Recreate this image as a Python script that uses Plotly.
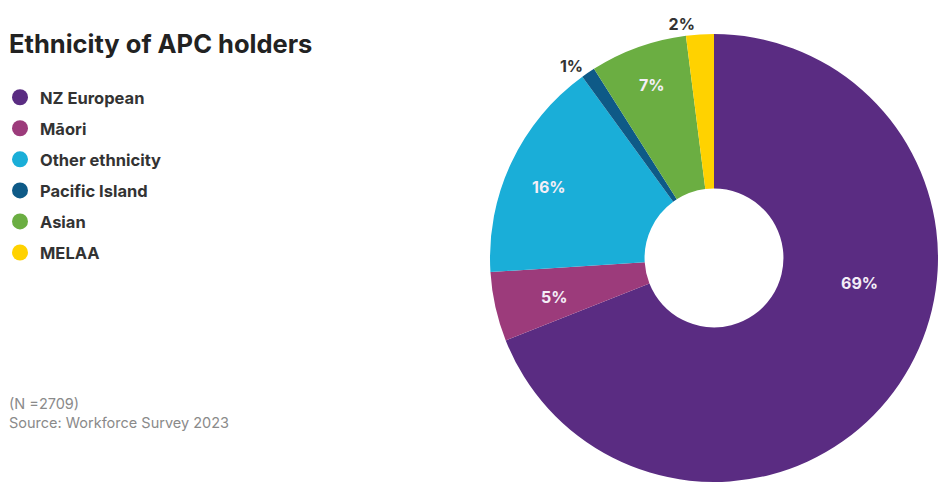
import math
import plotly.graph_objects as go

# Ethnicity breakdown of APC holders (Workforce Survey 2023, N = 2709)
groups = ["NZ European", "Māori", "Other ethnicity", "Pacific Island", "Asian", "MELAA"]
shares = [69, 5, 16, 1, 7, 2]
colors = ["#5A2C82", "#9C3B7B", "#1AAED8", "#0E5A87", "#6BAE42", "#FFD200"]

W, H = 938, 489
FONT = "Inter, Liberation Sans, Arial, sans-serif"

# Donut geometry in pixels (top-left origin)
CX, CY, R = 714, 258, 224
HOLE = 0.31

# Slices whose labels plotly places itself; the rest are placed below as annotations
native_label = [False, False, False, True, True, True]
native_pos = ["none", "none", "none", "outside", "inside", "outside"]
# radial distance (px) and angular nudge (deg) for the annotated labels
ann_radius = [148, 165, 180, 0, 0, 0]
ann_nudge = [-24.5, -1, -2, 0, 0, 0]

fig = go.Figure()

fig.add_trace(go.Pie(
    labels=groups,
    values=shares,
    sort=False,
    direction="clockwise",
    rotation=0,
    hole=HOLE,
    marker=dict(colors=colors, line=dict(width=0)),
    texttemplate=[f"{v}%" if n else "" for v, n in zip(shares, native_label)],
    textposition=native_pos,
    insidetextorientation="horizontal",
    insidetextfont=dict(family=FONT, size=16, color="#F4EEF7", weight="bold"),
    outsidetextfont=dict(family=FONT, size=16, color="#333333", weight="bold"),
    domain=dict(x=[(CX - R) / W, (CX + R) / W], y=[1 - (CY + R) / H, 1 - (CY - R) / H]),
    automargin=False,
    showlegend=False,
    hoverinfo="label+percent",
))

# Legend entries with round swatches
for i, (g, c) in enumerate(zip(groups, colors)):
    fig.add_trace(go.Scatter(
        x=[None], y=[None], mode="markers", name=g,
        legendgroup=f"g{i}",
        marker=dict(symbol="circle", size=16, color=c),
        showlegend=True,
    ))

# Slice value labels placed on the ring, angles derived from the cumulative shares
total = sum(shares)
annotations = []
cum = 0
for v, n, rad, nudge in zip(shares, native_label, ann_radius, ann_nudge):
    mid = (cum + v / 2) / total * 360 + nudge
    cum += v
    if n:
        continue
    px = CX + rad * math.sin(math.radians(mid))
    py = CY - rad * math.cos(math.radians(mid))
    annotations.append(dict(
        text=f"<b>{v}%</b>", x=px / W, y=1 - py / H, xref="paper", yref="paper",
        xanchor="center", yanchor="middle", showarrow=False,
        font=dict(family=FONT, size=16, color="#F4EEF7"),
    ))

annotations += [
    dict(text="<b>Ethnicity of APC holders</b>", x=7 / W, y=1 - 43 / H,
         xref="paper", yref="paper", xanchor="left", yanchor="middle",
         showarrow=False, font=dict(family=FONT, size=25.5, color="#222222")),
    dict(text="(N =2709)<br>Source: Workforce Survey 2023", x=7 / W, y=1 - 413 / H,
         xref="paper", yref="paper", xanchor="left", yanchor="middle", align="left",
         showarrow=False, font=dict(family=FONT, size=14.5, color="#8a8a8a")),
]

fig.update_layout(
    width=W, height=H,
    margin=dict(l=0, r=0, t=0, b=0),
    paper_bgcolor="white", plot_bgcolor="white",
    xaxis=dict(visible=False), yaxis=dict(visible=False),
    legend=dict(
        x=0.0, y=1 - 80 / H, xanchor="left", yanchor="top",
        traceorder="grouped", tracegroupgap=6.6,
        font=dict(family=FONT, size=16.5, color="#333333", weight="bold"),
        bgcolor="rgba(0,0,0,0)",
    ),
    annotations=annotations,
)

fig.write_html("out.html")
